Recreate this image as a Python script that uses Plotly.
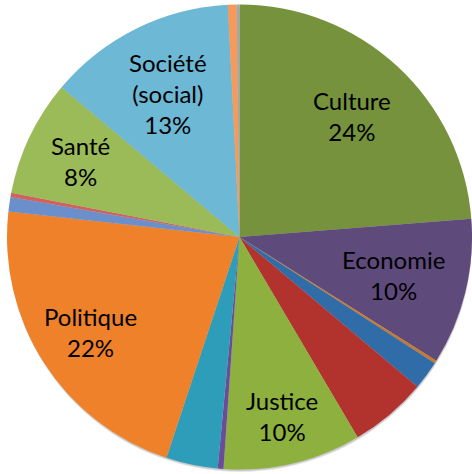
import math
import plotly.graph_objects as go

# Slices clockwise from 12 o'clock
categories = ["Culture", "Economie", "Autre 1", "Autre 2", "Autre 3", "Justice",
              "Autre 4", "Autre 5", "Politique", "Autre 6", "Autre 7", "Santé",
              "Société (social)", "Autre 8", "Autre 9"]
values = [23.8, 10.2, 0.2, 2.0, 5.4, 9.6, 0.4, 3.6, 21.7, 1.0, 0.3, 8.1, 13.1, 0.6, 0.2]
label_text = ["Culture<br>24%", "Economie<br>10%", "", "", "", "Justice<br>10%",
              "", "", "Politique<br>22%", "", "", "Santé<br>8%",
              "Société<br>(social)<br>13%", "", ""]

colors = ["#76923C", "#5F4A7C", "#C9792E", "#2F6CA8", "#B2322E", "#8DB03E",
          "#6B4C9A", "#2E9DBA", "#EE8129", "#6A8FCB", "#D0625E", "#9BBB59",
          "#6CB8D5", "#F79A59", "#A6A6A6"]

W, H = 472, 474
x0, x1 = 7 / W, 1.0
y0, y1 = 4 / H, 470 / H

fig = go.Figure()
# soft shadow under the pie
for dy, alpha in [(3, 0.10), (2, 0.12)]:
    fig.add_trace(go.Pie(
        values=[1], sort=False, textinfo="none", hoverinfo="skip", showlegend=False,
        marker=dict(colors=[f"rgba(0,0,0,{alpha})"], line=dict(width=0)),
        domain=dict(x=[x0 + 1 / W, x1], y=[y0 - dy / H, y1 - dy / H]),
    ))

fig.add_trace(go.Pie(
    labels=categories, values=values, sort=False, direction="clockwise",
    rotation=0, marker=dict(colors=colors, line=dict(width=0)),
    textinfo="none", hoverinfo="label+percent", showlegend=False,
    domain=dict(x=[x0, x1], y=[y0, y1]),
))

# label placement: mid-angle of each slice at a fraction of the radius
radial_frac = {"Culture": 0.71, "Economie": 0.68, "Justice": 0.79, "Politique": 0.76,
               "Santé": 0.76, "Société (social)": 0.69}
total = sum(values)
cx = (x0 + x1) / 2 * W
cy = (1 - (y0 + y1) / 2) * H
r = min((x1 - x0) * W, (y1 - y0) * H) / 2
cum = 0
for cat, v, t in zip(categories, values, label_text):
    mid = (cum + v / 2) / total * 2 * math.pi
    cum += v
    if not t:
        continue
    f = radial_frac[cat]
    px = cx + f * r * math.sin(mid)
    py = cy - f * r * math.cos(mid)
    fig.add_annotation(x=px / W, y=1 - py / H, xref="paper", yref="paper",
                       text=t, showarrow=False, align="center",
                       xanchor="center", yanchor="middle",
                       font=dict(family="Lato", size=24, color="#000000"))

fig.update_layout(width=W, height=H, margin=dict(l=0, r=0, t=0, b=0),
                  paper_bgcolor="white", plot_bgcolor="white")
fig.write_html("out.html", config={"displayModeBar": False},
               post_script="document.body.style.margin='0';document.body.style.overflow='hidden';")
